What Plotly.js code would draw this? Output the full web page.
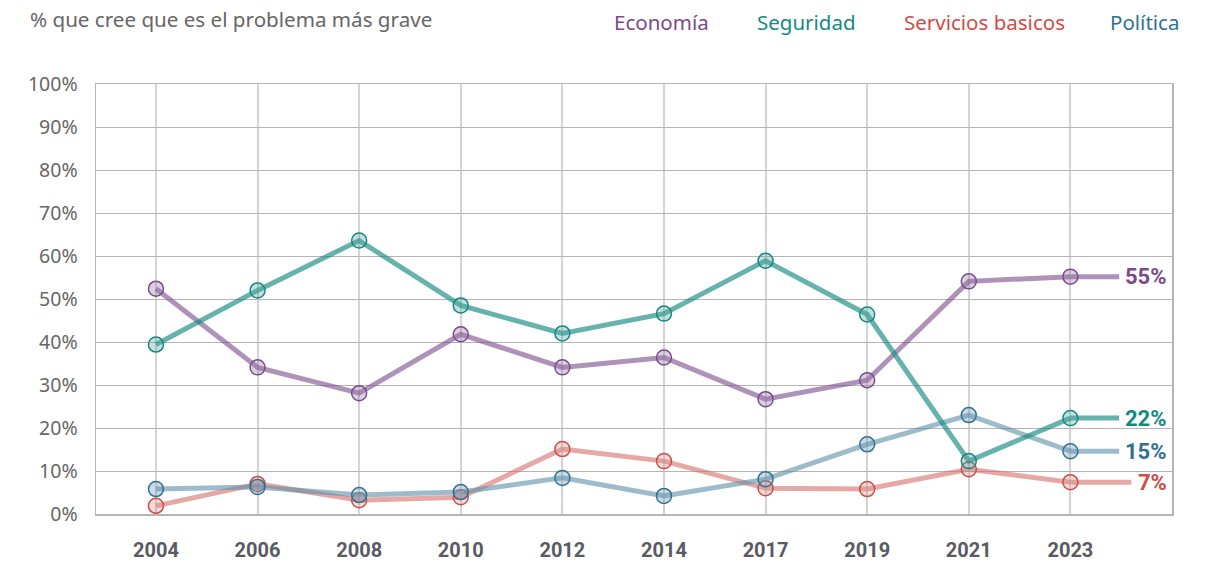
<!DOCTYPE html>
<html><head><meta charset="utf-8">
<script src="https://cdn.plot.ly/plotly-3.0.1.min.js"></script>
<style>body{margin:0;background:#fff}#chart{width:1208px;height:563px}</style>
</head><body><div id="chart"></div>
<script>
const years = ['2004','2006','2008','2010','2012','2014','2017','2019','2021','2023'];
const economia  = [52.4, 34.1, 28.1, 41.8, 34.1, 36.4, 26.7, 31.1, 54.1, 55.2];
const seguridad = [39.4, 52.0, 63.6, 48.5, 42.0, 46.6, 58.9, 46.4, 12.3, 22.3];
const servicios = [1.9, 7.0, 3.2, 3.9, 15.1, 12.3, 6.0, 5.8, 10.4, 7.4];
const politica  = [5.8, 6.3, 4.4, 5.1, 8.4, 4.2, 8.1, 16.2, 23.0, 14.6];
const seriesNames = ['Economía','Seguridad','Servicios basicos','Política'];
const endLabels = ['55%','22%','15%','7%'];

const series = [
  {name:seriesNames[2], y:servicios, dark:'#cf4c46', line:'rgba(214,110,105,0.6)', fill:'rgba(214,150,148,0.35)', label:endLabels[3], ext:9.6},
  {name:seriesNames[0], y:economia, dark:'#7a4a8a', line:'rgba(122,74,138,0.6)', fill:'rgba(150,120,165,0.35)', label:endLabels[0], ext:9.48},
  {name:seriesNames[3], y:politica, dark:'#2f7193', line:'rgba(90,143,170,0.6)', fill:'rgba(110,150,175,0.35)', label:endLabels[2], ext:9.48},
  {name:seriesNames[1], y:seguridad, dark:'#138a80', line:'rgba(19,138,128,0.65)', fill:'rgba(90,165,160,0.35)', label:endLabels[1], ext:9.48}
];
const xi = years.map((_,i)=>i);
const traces = [];
const annotations = [];
series.forEach(s=>{
  const last = s.y[s.y.length-1];
  traces.push({x:[xi[xi.length-1], s.ext], y:[last,last], mode:'lines', line:{color:s.line, width:5}, hoverinfo:'skip', showlegend:false});
  traces.push({x:xi, y:s.y, name:s.name, mode:'lines+markers', showlegend:false,
    line:{color:s.line, width:5},
    marker:{size:15, color:s.fill, line:{color:s.dark, width:1.5}}});
  annotations.push({x:1, xref:'paper', xanchor:'right', xshift:-3, y:last, yref:'y', yanchor:'middle',
    text:'<b>'+s.label+'</b>', showarrow:false, font:{family:'Roboto', size:22, color:s.dark}});
});
annotations.push({x:(28-96)/1076, xref:'paper', xanchor:'left', y:(514-19)/430, yref:'paper', yanchor:'middle',
  text:'% que cree que es el problema más grave', showarrow:false, font:{family:'Noto Sans', size:20.6, color:'#666'}});
const legendPos = [[612,'#7a4a8a',0],[755,'#138a80',1],[902,'#cf4c46',2],[1108,'#2f7193',3]];
legendPos.forEach(p=>{
  annotations.push({x:(p[0]-96)/1076, xref:'paper', xanchor:'left', y:(514-22)/430, yref:'paper', yanchor:'middle',
    text:seriesNames[p[2]], showarrow:false, font:{family:'Noto Sans', size:20.5, color:p[1]}});
});

const layout = {
  width:1208, height:563,
  margin:{l:96, r:36, t:84, b:49},
  paper_bgcolor:'#fff', plot_bgcolor:'#fff',
  xaxis:{range:[-0.59, 10.0], tickvals:xi, ticktext:years, showgrid:true, gridcolor:'#d4d4d4', gridwidth:2,
    zeroline:false, showline:true, linecolor:'#b5b5b5', linewidth:1.5, mirror:true, ticks:'', ticklen:0, ticklabelstandoff:17,
    tickfont:{family:'Roboto', size:20, color:'#5a5a62', weight:'bold'}, fixedrange:true},
  yaxis:{range:[0,100], tickvals:[0,10,20,30,40,50,60,70,80,90,100], ticktext:['0%','10%','20%','30%','40%','50%','60%','70%','80%','90%','100%'],
    showgrid:true, gridcolor:'#b5b5b5', gridwidth:1, zeroline:false, showline:true, linecolor:'#b5b5b5', linewidth:1.5, mirror:true,
    ticks:'', ticklabelstandoff:13, tickfont:{family:'Noto Sans', size:19.5, color:'#666'}, fixedrange:true},
  showlegend:false,
  annotations:annotations
};
Plotly.newPlot('chart', traces, layout, {displayModeBar:false, staticPlot:true});
</script></body></html>
